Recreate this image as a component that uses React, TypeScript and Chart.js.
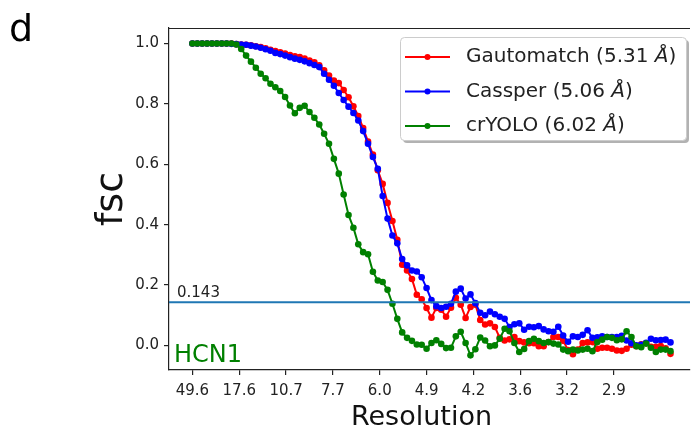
import React, { useEffect, useRef } from "react";
import { Chart, registerables } from "chart.js";

Chart.register(...registerables);

// ---------- data ----------
const RES_LABELS = ["49.6", "17.6", "10.7", "7.7", "6.0", "4.9", "4.2", "3.6", "3.2", "2.9"];
const TICK_STEP = 9.6; // shells between labelled resolution ticks
const Y_TICKS = [0, 0.2, 0.4, 0.6, 0.8, 1.0];
const THRESHOLD = 0.143;
const PANEL = "d";
const SAMPLE = "HCN1";
const SERIES_NAMES = ["Gautomatch", "Cassper", "crYOLO"];
const SERIES_RES = ["5.31", "5.06", "6.02"];
const SERIES_COLORS = ["#ff0000", "#0000ff", "#008000"];

const GAUTOMATCH = [
  1.0, 1.0, 1.0, 1.0, 1.0, 1.0, 1.0, 1.0, 1.0, 0.998,
  0.997, 0.996, 0.994, 0.991, 0.988, 0.984, 0.979, 0.975, 0.971, 0.967,
  0.962, 0.958, 0.955, 0.95, 0.944, 0.938, 0.928, 0.911, 0.894, 0.877,
  0.869, 0.846, 0.822, 0.792, 0.76, 0.72, 0.675, 0.632, 0.58, 0.535,
  0.472, 0.412, 0.35, 0.267, 0.248, 0.22, 0.168, 0.153, 0.124, 0.092,
  0.124, 0.118, 0.095, 0.125, 0.158, 0.135, 0.091, 0.127, 0.135, 0.084,
  0.069, 0.073, 0.061, 0.025, 0.016, 0.02, 0.028, 0.014, 0.01, 0.007,
  0.007, -0.003, -0.003, 0.011, 0.028, 0.028, 0.015, -0.015, -0.029, -0.014,
  0.008, 0.01, 0.011, -0.011, -0.008, -0.008, -0.011, -0.017, -0.018, -0.011,
  0.002, -0.003, 0.004, 0.007, -0.005, -0.005, -0.002, -0.01, -0.028,
];

const CASSPER = [
  1.0, 1.0, 1.0, 1.0, 1.0, 1.0, 1.0, 1.0, 0.999, 0.998,
  0.997, 0.996, 0.993, 0.99, 0.986, 0.981, 0.976, 0.969, 0.965, 0.96,
  0.955, 0.95, 0.946, 0.941, 0.935, 0.929, 0.922, 0.9, 0.88, 0.86,
  0.836, 0.813, 0.791, 0.77, 0.745, 0.71, 0.668, 0.624, 0.585, 0.495,
  0.42, 0.364, 0.338, 0.286, 0.265, 0.248, 0.245, 0.226, 0.19, 0.15,
  0.13, 0.124, 0.128, 0.138, 0.178, 0.188, 0.155, 0.169, 0.14, 0.108,
  0.1, 0.112, 0.103, 0.095, 0.088, 0.061, 0.07, 0.073, 0.052, 0.062,
  0.06, 0.064, 0.053, 0.047, 0.045, 0.062, 0.033, 0.012, 0.03, 0.028,
  0.035, 0.05, 0.025, 0.027, 0.03, 0.028, 0.028, 0.028, 0.032, 0.016,
  0.007, 0.0, 0.002, 0.009, 0.022, 0.017, 0.018, 0.019, 0.01,
];

const CRYOLO = [
  1.0, 1.0, 1.0, 1.0, 1.0, 1.0, 1.0, 1.0, 1.0, 0.997,
  0.982, 0.96, 0.94, 0.92, 0.9, 0.885, 0.867, 0.855, 0.843, 0.823,
  0.795, 0.769, 0.787, 0.794, 0.773, 0.754, 0.732, 0.701, 0.668, 0.618,
  0.569, 0.5, 0.432, 0.39, 0.335, 0.309, 0.302, 0.244, 0.215, 0.21,
  0.184, 0.138, 0.088, 0.043, 0.025, 0.015, 0.003, 0.002, -0.011, 0.008,
  0.017, 0.005, -0.009, -0.008, 0.03, 0.045, 0.008, -0.033, -0.013, 0.026,
  0.016, -0.003, 0.0, 0.022, 0.055, 0.047, 0.008, -0.022, -0.012, 0.014,
  0.022, 0.014, 0.008, 0.011, 0.006, 0.003, -0.014, -0.019, -0.014, -0.017,
  -0.014, -0.011, -0.019, 0.011, 0.019, 0.028, 0.025, 0.017, 0.02, 0.047,
  0.028, -0.003, -0.006, 0.006, -0.008, -0.022, -0.014, -0.014, -0.019,
];

const SERIES = [GAUTOMATCH, CASSPER, CRYOLO];

// ---------- styling ----------
const FONT = "'DejaVu Sans', 'Noto Sans', sans-serif";
const INK = "#222222";
const X_MIN = -4.8;
const X_MAX = 102.0;
const Y_MIN = -0.0815;
const Y_MAX = 1.0515;

const decorPlugin = {
  id: "decor",
  afterDatasetsDraw(chart: any) {
    const { ctx, chartArea, scales } = chart;
    const yPix = scales.y.getPixelForValue(THRESHOLD);
    ctx.save();
    ctx.strokeStyle = "#1f77b4";
    ctx.lineWidth = 2;
    ctx.beginPath();
    ctx.moveTo(chartArea.left, yPix);
    ctx.lineTo(chartArea.right, yPix);
    ctx.stroke();
    ctx.restore();
  },
  afterDraw(chart: any) {
    const { ctx, chartArea, scales } = chart;
    ctx.save();
    // top spine
    ctx.strokeStyle = INK;
    ctx.lineWidth = 1.2;
    ctx.beginPath();
    ctx.moveTo(chartArea.left, chartArea.top + 0.5);
    ctx.lineTo(chartArea.right, chartArea.top + 0.5);
    ctx.stroke();

    const yPix = scales.y.getPixelForValue(THRESHOLD);
    ctx.fillStyle = INK;
    ctx.font = `15px ${FONT}`;
    ctx.textAlign = "left";
    ctx.textBaseline = "alphabetic";
    ctx.fillText(THRESHOLD.toFixed(3), chartArea.left + 8, yPix - 5);

    ctx.fillStyle = "#008000";
    ctx.font = `24px ${FONT}`;
    ctx.fillText(SAMPLE, chartArea.left + 5, chartArea.bottom - 8);

    ctx.fillStyle = "#000";
    ctx.font = `38px ${FONT}`;
    ctx.fillText(PANEL, 9, 41);

    ctx.fillStyle = "#111";
    ctx.font = `27px ${FONT}`;
    ctx.textAlign = "center";
    ctx.fillText("Resolution", 421.5, 425);

    ctx.save();
    ctx.translate(122, (chartArea.top + chartArea.bottom) / 2);
    ctx.rotate(-Math.PI / 2);
    ctx.font = `38px ${FONT}`;
    ctx.textAlign = "center";
    ctx.fillText("fsc", 0, 0);
    ctx.restore();

    // legend
    const lx = 400, ly = 37, lw = 286, lh = 103;
    ctx.fillStyle = "rgba(0,0,0,0.3)";
    ctx.beginPath();
    ctx.roundRect(lx + 3, ly + 3, lw, lh, 4);
    ctx.fill();
    ctx.fillStyle = "#ffffff";
    ctx.strokeStyle = "#cccccc";
    ctx.lineWidth = 1;
    ctx.beginPath();
    ctx.roundRect(lx + 0.5, ly + 0.5, lw, lh, 4);
    ctx.fill();
    ctx.stroke();

    SERIES_NAMES.forEach((name, k) => {
      const cy = ly + 20 + k * 34.5;
      const color = SERIES_COLORS[k];
      ctx.strokeStyle = color;
      ctx.lineWidth = 2;
      ctx.beginPath();
      ctx.moveTo(405, cy);
      ctx.lineTo(450, cy);
      ctx.stroke();
      ctx.fillStyle = color;
      ctx.beginPath();
      ctx.arc(427.5, cy, 3, 0, Math.PI * 2);
      ctx.fill();

      ctx.fillStyle = INK;
      ctx.textAlign = "left";
      ctx.textBaseline = "middle";
      let tx = 466;
      const head = `${name} (${SERIES_RES[k]} `;
      ctx.font = `20px ${FONT}`;
      ctx.fillText(head, tx, cy);
      tx += ctx.measureText(head).width;
      ctx.font = `italic 20px ${FONT}`;
      ctx.fillText("Å", tx, cy);
      tx += ctx.measureText("Å").width;
      ctx.font = `20px ${FONT}`;
      ctx.fillText(")", tx, cy);
    });
    ctx.restore();
  },
};

export default function App() {
  const ref = useRef<HTMLCanvasElement | null>(null);

  useEffect(() => {
    if (!ref.current) return;
    const datasets = SERIES.map((vals, k) => ({
      label: SERIES_NAMES[k],
      data: vals.map((v, i) => ({ x: i, y: v })),
      borderColor: SERIES_COLORS[k],
      backgroundColor: SERIES_COLORS[k],
      pointBackgroundColor: SERIES_COLORS[k],
      pointBorderColor: SERIES_COLORS[k],
      pointBorderWidth: 0,
      pointRadius: 3.3,
      borderWidth: 2,
      tension: 0,
      order: SERIES.length - k,
    }));

    const chart = new Chart(ref.current, {
      type: "line",
      data: { datasets },
      options: {
        animation: false,
        responsive: false,
        devicePixelRatio: 1,
        layout: { padding: { top: 28, left: 0, right: 0, bottom: 0 } },
        plugins: { legend: { display: false }, tooltip: { enabled: false } },
        scales: {
          x: {
            type: "linear",
            min: X_MIN,
            max: X_MAX,
            afterBuildTicks: (s: any) => {
              s.ticks = RES_LABELS.map((_, k) => ({ value: k * TICK_STEP }));
            },
            afterFit: (s: any) => {
              s.height = 62;
            },
            ticks: {
              autoSkip: false,
              maxRotation: 0,
              callback: (_v: any, idx: number) => RES_LABELS[idx],
              font: { family: FONT, size: 15 },
              color: INK,
              padding: 7,
            },
            grid: { drawOnChartArea: false, drawTicks: true, tickLength: 5, color: INK, lineWidth: 1.2 },
            border: { display: true, color: INK, width: 1.2 },
          },
          y: {
            type: "linear",
            min: Y_MIN,
            max: Y_MAX,
            afterBuildTicks: (s: any) => {
              s.ticks = Y_TICKS.map((v) => ({ value: v }));
            },
            afterFit: (s: any) => {
              s.width = 169;
            },
            ticks: {
              callback: (v: any) => Number(v).toFixed(1),
              font: { family: FONT, size: 15 },
              color: INK,
              padding: 5,
            },
            grid: { drawOnChartArea: false, drawTicks: true, tickLength: 5, color: INK, lineWidth: 1.2 },
            border: { display: true, color: INK, width: 1.2 },
          },
        },
      },
      plugins: [decorPlugin],
    });
    return () => chart.destroy();
  }, []);

  return (
    <div style={{ position: "fixed", left: 0, top: 0, width: 694, height: 432, background: "#fff" }}>
      <canvas ref={ref} width={694} height={432} style={{ display: "block" }} />
    </div>
  );
}
